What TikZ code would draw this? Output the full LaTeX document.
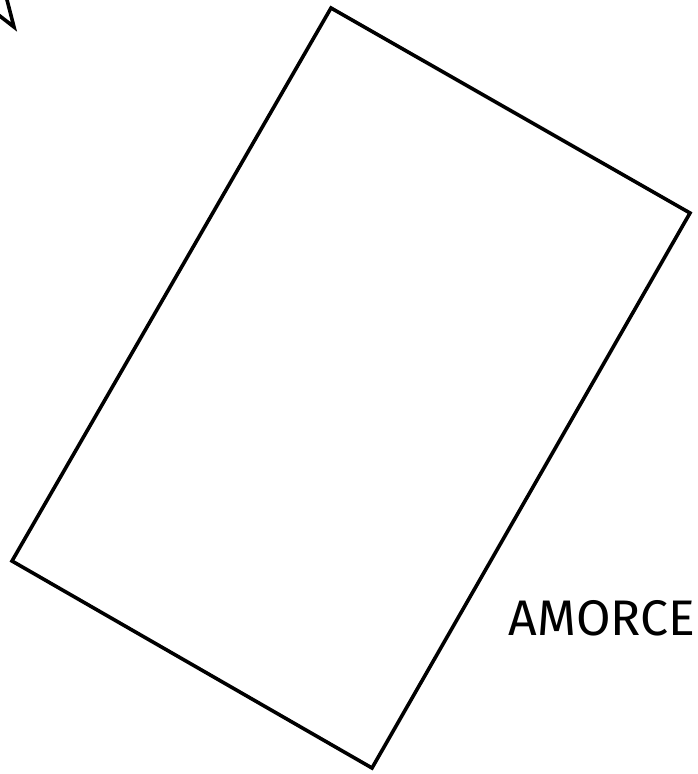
\documentclass[tikz,border=0pt]{standalone}
\usepackage{fontspec}
\setmainfont{Fira Sans}
\usetikzlibrary{positioning}

\begin{document}
\begin{tikzpicture}[
    x=1pt, y=-1pt,
    outline/.style={draw=black, line width=3.6pt, line join=miter},
    label/.style={font=\fontsize{50}{60}\selectfont, anchor=center, inner sep=0pt},
]

\useasboundingbox (0,0) rectangle (698,774);

% Arrow tip entering from the corner
\coordinate (tip) at (14,27);
\coordinate (barbA) at (6,-4);
\coordinate (barbB) at (-4,13);
\begin{scope}
  \clip (0,0) rectangle (698,774);
  \draw[outline] (barbA) -- (tip) -- (barbB);
\end{scope}

% Tilted sheet
\coordinate (top) at (331,8);
\coordinate (right) at (690,213);
\coordinate (bottom) at (372,768);
\coordinate (left) at (12,561);
\draw[outline] (top) -- (right) -- (bottom) -- (left) -- cycle;

% Label
\node[label] (amorce) at (602,618) {AMORCE};

\end{tikzpicture}
\end{document}
